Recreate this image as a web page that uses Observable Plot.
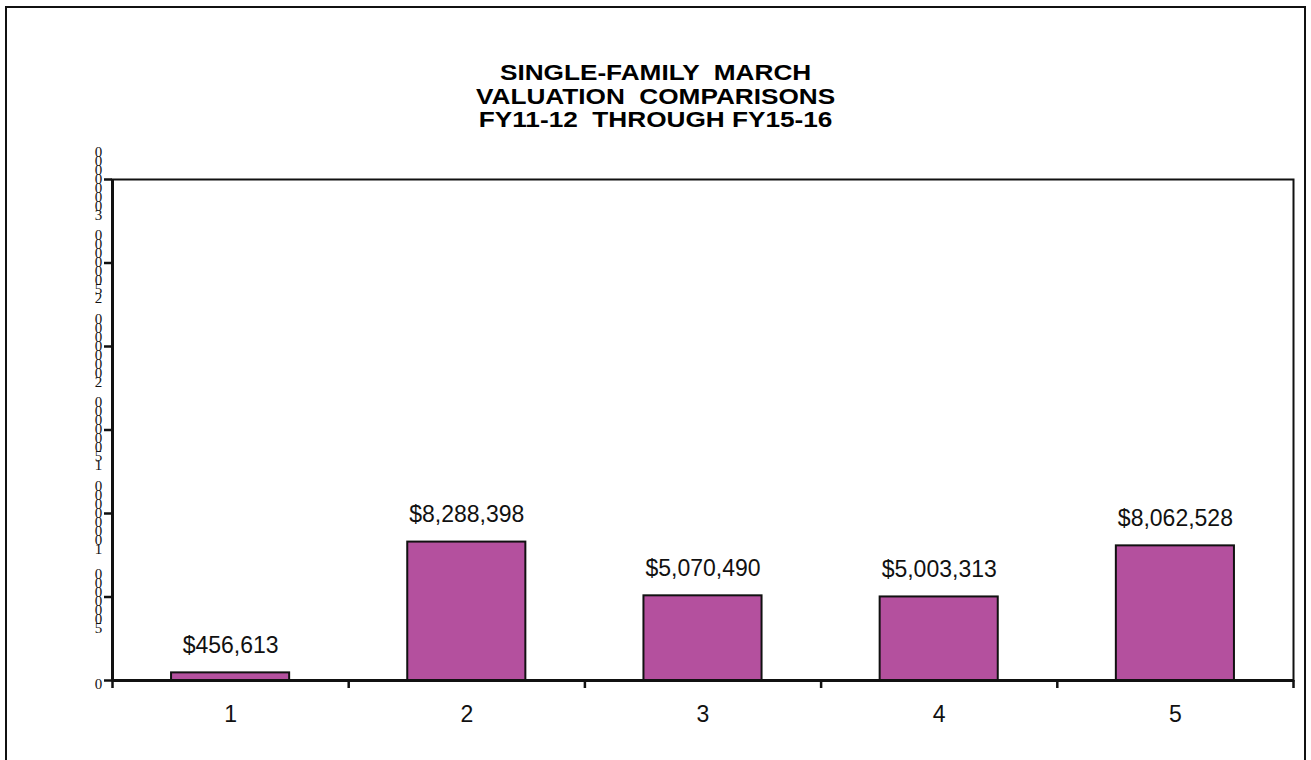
<!DOCTYPE html>
<html>
<head>
<meta charset="utf-8">
<script src="https://cdn.jsdelivr.net/npm/d3@7"></script>
<script src="https://cdn.jsdelivr.net/npm/@observablehq/plot@0.6"></script>
<style>
  html, body { margin: 0; padding: 0; background: #fff; }
  #wrap { position: relative; width: 1311px; height: 760px; overflow: hidden; font-family: "Liberation Sans", Arial, sans-serif; }
  #border { position: absolute; left: 5px; top: 6px; width: 1297px; height: 800px; border: 2px solid #111; box-sizing: content-box; }
  #title { position: absolute; left: 0; top: 61px; width: 1311px; text-align: center; font-weight: bold; font-size: 22px; line-height: 23.5px; white-space: pre; transform: scaleX(1.19); transform-origin: 655px 0; }
  #chart { position: absolute; left: 0; top: 0; }
</style>
</head>
<body>
<div id="wrap">
  <div id="border"></div>
  <div id="title"></div>
  <div id="chart"></div>
</div>
<script>
const titleLines = ["SINGLE-FAMILY  MARCH", "VALUATION  COMPARISONS", "FY11-12  THROUGH FY15-16"];
const categories = [1, 2, 3, 4, 5];
const values = [456613, 8288398, 5070490, 5003313, 8062528];
const yTicks = [0, 5000000, 10000000, 15000000, 20000000, 25000000, 30000000];

document.getElementById("title").textContent = titleLines.join("\n");

const data = categories.map((c, i) => ({cat: c, value: values[i]}));
const boundaries = [categories[0] - 0.5, ...categories.map(c => c + 0.5)];
const fmt = d3.format(",");

const plot = Plot.plot({
  width: 1311,
  height: 760,
  marginLeft: 112,
  marginRight: 18,
  marginTop: 179,
  marginBottom: 80,
  style: {background: "transparent", fontFamily: "Liberation Sans, Arial, sans-serif", overflow: "visible"},
  x: {domain: [0.5, 5.5], label: null},
  y: {domain: [0, 30000000], label: null},
  marks: [
    Plot.frame({stroke: "#111", strokeWidth: 2}),
    Plot.rectY(data, {x1: d => d.cat - 0.25, x2: d => d.cat + 0.25, y: "value", fill: "#B4509E", stroke: "#111", strokeWidth: 2}),
    Plot.text(data, {x: "cat", y: "value", text: d => "$" + fmt(d.value), dy: -20, lineAnchor: "bottom", fontSize: 23, fill: "#111"}),
    Plot.axisX({ticks: boundaries, tickFormat: () => "", tickSize: 8, strokeWidth: 2.5, stroke: "#111", label: null}),
    Plot.axisX({ticks: categories, tickSize: 0, tickPadding: 25, fontSize: 23, tickFormat: d => String(d), fill: "#111", label: null}),
    Plot.axisY({ticks: yTicks, tickSize: 8, tickPadding: 6, strokeWidth: 2.5, stroke: "#111", label: null,
      tickFormat: d => String(d).split("").reverse().join("")}),
    Plot.ruleY([0], {stroke: "#111", strokeWidth: 3}),
    Plot.ruleX([0.5], {stroke: "#111", strokeWidth: 3})
  ]
});

d3.select(plot).selectAll('g[aria-label="y-axis tick label"]')
  .attr("text-anchor", "middle")
  .attr("fill", "#111")
  .attr("font-family", "Liberation Serif, Times New Roman, serif")
  .attr("font-size", 15)
  .selectAll("text")
  .attr("y", null)
  .attr("dy", null)
  .attr("fill", "#111")
  .style("writing-mode", "vertical-rl")
  .style("text-orientation", "upright")
  .style("letter-spacing", "-7px");

document.getElementById("chart").appendChild(plot);
</script>
</body>
</html>
